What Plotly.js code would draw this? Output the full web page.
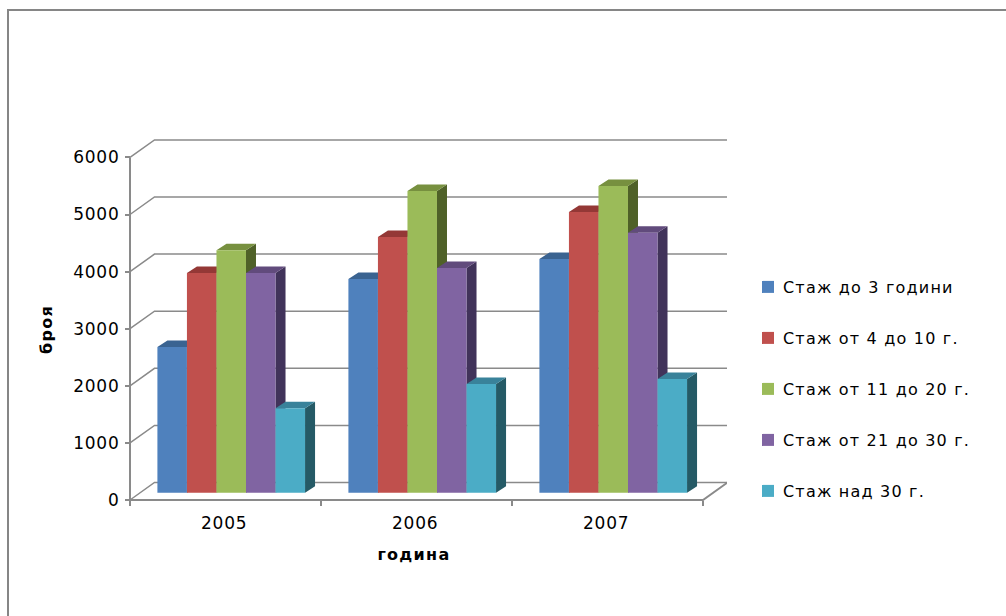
<!DOCTYPE html>
<html>
<head>
<meta charset="utf-8">
<script src="https://cdn.plot.ly/plotly-3.0.1.min.js"></script>
<style>
  html, body { margin: 0; padding: 0; background: #fff; }
  #chart { width: 1006px; height: 616px; }
  .legendtext { letter-spacing: 1.2px; transform: translateX(-5px); }
  .xtick text, .ytick text { letter-spacing: 0.8px; }
  .xtitle, .ytitle { letter-spacing: 1.3px; }
</style>
</head>
<body>
<div id="chart"></div>
<script>
// Staff by length of service, per year
const years = ['2005', '2006', '2007'];
const seriesNames = ['Стаж до 3 години', 'Стаж от 4 до 10 г.', 'Стаж от 11 до 20 г.', 'Стаж от 21 до 30 г.', 'Стаж над 30 г.'];
const svc0to3 = [2552, 3743, 4093];
const svc4to10 = [3848, 4478, 4916];
const svc11to20 = [4245, 5284, 5371];
const svc21to30 = [3848, 3935, 4553];
const svcOver30 = [1478, 1904, 1991];
const yTicks = [0, 1000, 2000, 3000, 4000, 5000, 6000];

const seriesValues = [svc0to3, svc4to10, svc11to20, svc21to30, svcOver30];
const frontColors = ['#4F81BD', '#C0504D', '#9BBB59', '#8064A2', '#4BACC6'];
const topColors = ['#3A6391', '#943836', '#77903F', '#614B7C', '#39829A'];
const sideColors = ['#29425F', '#632826', '#4F6128', '#41335A', '#255A66'];

// Canvas and axis geometry
const W = 1006, H = 616;
const pxPerCat = 191, pxPerUnit = 0.0571;
const axisLeft = 130, axisBottom = 500;
const plotLeft = 101, plotRight = 727, plotTop = 135, plotBottom = 524;
const wallDx = 24.5 / pxPerCat, wallDy = 17.5 / pxPerUnit;   // floor depth
const barDx = 10 / pxPerCat, barDy = 6.5 / pxPerUnit;        // depth of one bar
const barBase = 7.3 / pxPerUnit;                              // bars stand set back on the floor
const bargap = 0.227, catShift = 0.03, labelShift = -0.007;
const nCat = years.length, nSer = seriesValues.length;
const catCenters = years.map((_, i) => i + 0.5 + catShift);
const barW = (1 - bargap) / nSer;

const xRange = [(plotLeft - axisLeft) / pxPerCat, (plotRight - axisLeft) / pxPerCat];
const yRange = [(axisBottom - plotBottom) / pxPerUnit, (axisBottom - plotTop) / pxPerUnit];

const gridColor = '#8A8A8A';
const traces = [];

// Front faces sit on an overlaid subplot so they cover the neighbouring depth faces
seriesValues.forEach((vals, s) => {
  traces.push({
    type: 'bar', name: seriesNames[s], legendgroup: seriesNames[s],
    x: catCenters, y: vals, base: barBase,
    xaxis: 'x2', yaxis: 'y2',
    marker: { color: frontColors[s], line: { width: 0 } },
    hoverinfo: 'name+y'
  });
});

// Back wall gridlines with their floor-to-wall diagonals
yTicks.forEach(v => {
  traces.push({
    type: 'scatter', mode: 'lines', showlegend: false, hoverinfo: 'skip',
    x: [0, wallDx, nCat + wallDx], y: [v, v + wallDy, v + wallDy],
    line: { color: gridColor, width: 1.5 }
  });
});

// Front axis lines and the floor's right edge
traces.push({
  type: 'scatter', mode: 'lines', showlegend: false, hoverinfo: 'skip',
  x: [0, 0, nCat, nCat + wallDx],
  y: [yTicks[yTicks.length - 1], 0, 0, wallDy],
  line: { color: gridColor, width: 2 }
});

// Side and top faces, built from each bar's value
seriesValues.forEach((vals, s) => {
  const sideX = [], sideY = [], topX = [], topY = [];
  vals.forEach((v, c) => {
    const left = catCenters[c] - (1 - bargap) / 2 + s * barW;
    const right = left + barW;
    const top = barBase + v;
    sideX.push(right, right + barDx, right + barDx, right, right, null);
    sideY.push(barBase, barBase + barDy, top + barDy, top, barBase, null);
    topX.push(left, left + barDx, right + barDx, right, left, null);
    topY.push(top, top + barDy, top + barDy, top, top, null);
  });
  traces.push({
    type: 'scatter', mode: 'lines', showlegend: false, hoverinfo: 'skip', legendgroup: seriesNames[s],
    x: sideX, y: sideY, fill: 'toself', fillcolor: sideColors[s], line: { width: 0 }
  });
  traces.push({
    type: 'scatter', mode: 'lines', showlegend: false, hoverinfo: 'skip', legendgroup: seriesNames[s],
    x: topX, y: topY, fill: 'toself', fillcolor: topColors[s], line: { width: 0 }
  });
});

const fontFamily = '"DejaVu Sans", Verdana, sans-serif';
const xDomain = [plotLeft / W, plotRight / W];
const yDomain = [1 - plotBottom / H, 1 - plotTop / H];

const layout = {
  width: W, height: H,
  margin: { l: 0, r: 0, t: 0, b: 0, pad: 0 },
  paper_bgcolor: '#fff', plot_bgcolor: 'rgba(0,0,0,0)',
  font: { family: fontFamily, color: '#000', size: 16 },
  barmode: 'group', bargap: bargap, bargroupgap: 0,
  xaxis: {
    domain: xDomain, range: xRange, anchor: 'free', position: 1 - axisBottom / H,
    tickmode: 'array', tickvals: years.map((_, i) => i + 0.5 + labelShift), ticktext: years,
    ticks: '', showgrid: false, zeroline: false, showline: false, ticklabelstandoff: 11,
    minor: { tickmode: 'array', tickvals: [0, 1, 2, 3], ticks: 'outside', ticklen: 5, tickcolor: gridColor, tickwidth: 2, showgrid: false },
    tickfont: { size: 17 },
    title: { text: '<b>година</b>', font: { size: 16 }, standoff: 16 }
  },
  yaxis: {
    domain: yDomain, range: yRange, anchor: 'free', position: axisLeft / W,
    tickmode: 'array', tickvals: yTicks, ticklabelstandoff: 2,
    ticks: 'outside', ticklen: 5, tickcolor: gridColor, tickwidth: 2,
    showgrid: false, zeroline: false, showline: false,
    tickfont: { size: 17 },
    title: { text: '<b>броя</b>', font: { size: 16 }, standoff: 15 }
  },
  xaxis2: { domain: xDomain, range: xRange, overlaying: 'x', visible: false },
  yaxis2: { domain: yDomain, range: yRange, overlaying: 'y', visible: false },
  legend: {
    x: 748 / W, xanchor: 'left', y: 1 - 270 / H, yanchor: 'top',
    traceorder: 'grouped', tracegroupgap: 27.2,
    bgcolor: 'rgba(0,0,0,0)', font: { size: 16, family: fontFamily },
    itemclick: false, itemdoubleclick: false
  },
  shapes: [{
    type: 'path', xref: 'paper', yref: 'paper',
    path: `M ${8 / W} 0 L ${8 / W} ${1 - 10 / H} L 1 ${1 - 10 / H}`,
    line: { color: '#868686', width: 2 }
  }],
  showlegend: true
};

Plotly.newPlot('chart', traces, layout, { displayModeBar: false, responsive: false });
</script>
</body>
</html>
